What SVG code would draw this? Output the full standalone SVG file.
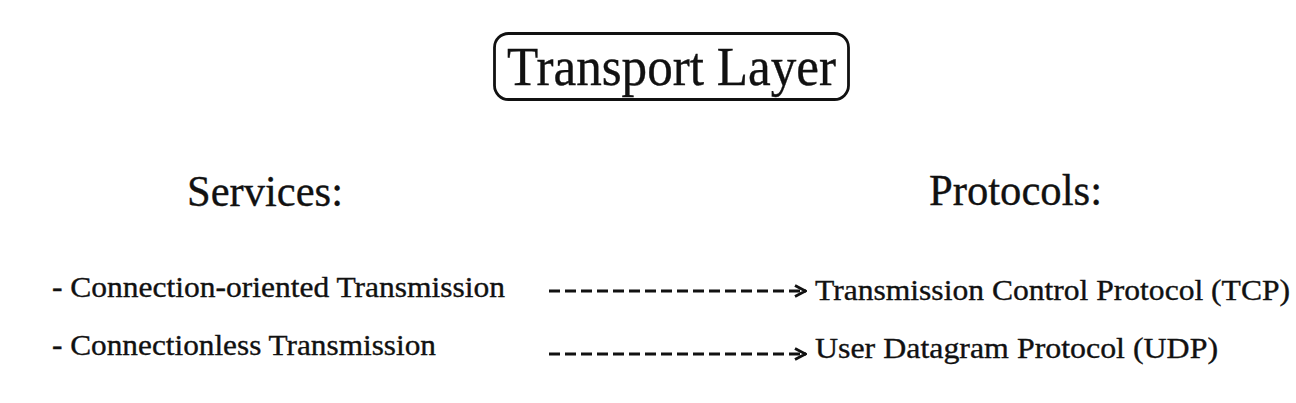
<svg xmlns="http://www.w3.org/2000/svg" width="1296" height="403" viewBox="0 0 1296 403">
<style>
text{font-family:"Liberation Serif","DejaVu Serif",serif;fill:#111111;stroke:#111111;stroke-width:0.35}
.t{font-size:54px}
.h{font-size:45px}
.s{font-size:29px}
.c{stroke:#111111;stroke-width:3;stroke-dasharray:11 5;fill:none}
</style>
<defs>
<marker id="ah" viewBox="0 0 14 14" refX="13" refY="7" markerWidth="14" markerHeight="14" markerUnits="userSpaceOnUse" orient="auto">
<path d="M2,1.5 L12.5,7 L2,12.5" fill="none" stroke="#111111" stroke-width="2.8"/>
</marker>
</defs>
<rect width="1296" height="403" fill="#ffffff"/>
<g id="title">
<rect x="494.5" y="33.5" width="354" height="66" rx="14" fill="none" stroke="#111111" stroke-width="2.8"/>
<text class="t" x="507" y="85" textLength="329" lengthAdjust="spacingAndGlyphs">Transport Layer</text>
</g>
<g id="services">
<text class="h" x="187" y="206" textLength="156" lengthAdjust="spacingAndGlyphs">Services:</text>
</g>
<g id="protocols">
<text class="h" x="929" y="205" textLength="173" lengthAdjust="spacingAndGlyphs">Protocols:</text>
</g>
<g id="svc1">
<text class="s" x="52" y="297" textLength="453" lengthAdjust="spacingAndGlyphs">- Connection-oriented Transmission</text>
</g>
<g id="svc2">
<text class="s" x="52" y="355" textLength="384" lengthAdjust="spacingAndGlyphs">- Connectionless Transmission</text>
</g>
<g id="tcp">
<text class="s" x="815" y="300" textLength="475" lengthAdjust="spacingAndGlyphs">Transmission Control Protocol (TCP)</text>
</g>
<g id="udp">
<text class="s" x="815" y="358" textLength="403" lengthAdjust="spacingAndGlyphs">User Datagram Protocol (UDP)</text>
</g>
<g id="connectors">
<line class="c" x1="549" y1="291" x2="806" y2="291" marker-end="url(#ah)"/>
<line class="c" x1="549" y1="354" x2="806" y2="354" marker-end="url(#ah)"/>
</g>
</svg>
